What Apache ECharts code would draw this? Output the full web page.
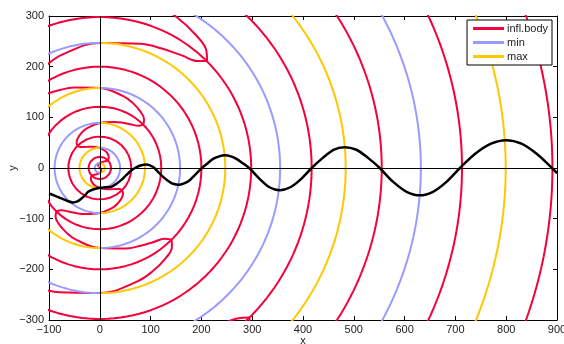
<!DOCTYPE html>
<html>
<head>
<meta charset="utf-8">
<script src="https://cdn.jsdelivr.net/npm/echarts@6/dist/echarts.min.js"></script>
<style>
  html, body { margin: 0; padding: 0; background: #fff; }
  #chart { width: 564px; height: 344px; }
</style>
</head>
<body>
<div id="chart"></div>
<script>
// ring radii (data units); min/max swap colour across x = 0
const maxRadiiRight = [10, 89, 247, 484, 799];
const minRadiiRight = [40, 158, 355, 632];
const maxRadiiLeft = [40, 158, 355];
const minRadiiLeft = [10, 89, 247];
const inflRadii = [2.5, 22, 62, 121, 200, 298, 417, 555, 713, 891];

// spiral branches of infl.body: radius at each fraction of a 90 degree sweep
const arcFrac = [0, 0.03, 0.1, 0.2, 0.3, 0.5, 0.7, 0.8, 0.9, 0.97, 1];
// upper ones start at 45 deg and sweep to 135 deg
const arcA = [298.6, 285.4, 274.8, 265.2, 258.0, 246.7, 235.8, 228.9, 220.2, 210.9, 199.9];
const arcB = [298.6, 312.0, 323.3, 333.9, 342.1, 355.3, 368.8, 377.4, 388.8, 401.4, 417.0];
const arcC = [120.9, 129.5, 136.8, 143.7, 149.2, 157.9, 166.9, 172.8, 180.5, 189.1, 199.9];
const arcD = [120.9, 112.6, 106.0, 100.1, 95.6, 88.8, 82.3, 78.3, 73.2, 67.9, 61.7];
const arcE = [22.2, 26.0, 29.3, 32.5, 35.2, 39.5, 44.0, 47.1, 51.2, 55.8, 61.7];
const arcF = [22.2, 18.7, 16.1, 13.8, 12.2, 9.9, 7.8, 6.6, 5.2, 3.8, 2.5];
// lower ones start at -45 deg and sweep to -135 deg
const arcG = [417.0, 401.4, 388.8, 377.4, 368.8, 355.3, 342.1, 333.9, 323.3, 312.0, 298.6];
const arcH = [417.0, 432.8, 446.1, 458.5, 468.2, 483.6, 499.3, 509.4, 522.6, 537.2, 555.2];
const arcI = [199.9, 210.9, 220.2, 228.9, 235.8, 246.7, 258.0, 265.2, 274.8, 285.4, 298.6];
const arcJ = [199.9, 189.1, 180.5, 172.8, 166.9, 157.9, 149.2, 143.7, 136.8, 129.5, 120.9];
const arcK = [61.7, 67.9, 73.2, 78.3, 82.3, 88.8, 95.6, 100.1, 106.0, 112.6, 120.9];
const arcL = [61.7, 55.8, 51.2, 47.1, 44.0, 39.5, 35.2, 32.5, 29.3, 26.0, 22.2];
const arcM = [2.5, 3.8, 5.2, 6.6, 7.8, 9.9, 12.2, 13.8, 16.1, 18.7, 22.2];

// black profile curve
const profileX = [-100, -88, -76, -64, -53, -44, -36, -29, -23, -12, 0, 12, 23, 33, 42, 52, 62, 71, 80, 92, 105, 115, 124, 134, 144, 157, 167, 177, 188, 200, 212, 223, 235, 246, 258, 269, 282, 295, 315, 334, 354, 375, 396, 417, 439, 460, 482, 505, 528, 551, 577, 604, 630, 656, 683, 709, 739, 770, 800, 830, 860, 890, 900];
const profileY = [-50, -55, -60, -65, -68, -66, -60, -54, -47, -42, -39, -38, -37, -31, -24, -14, -5, 1, 5, 7, 2, -8, -17, -25, -31, -33, -30, -24, -13, -1, 9, 18, 23, 25, 23, 18, 9, -1, -22, -38, -44, -38, -22, 0, 20, 36, 41, 36, 20, 0, -27, -47, -54, -47, -27, 0, 28, 48, 55, 48, 28, 0, -10];

const RED = '#f5003a';
const BLUE = '#9b9bff';
const YELLOW = '#ffc800';
const DEG = Math.PI / 180;

function arc(r, a0, a1) {
  const pts = [];
  const n = Math.max(30, Math.round(r / 2));
  for (let i = 0; i <= n; i++) {
    const a = (a0 + (a1 - a0) * i / n) * DEG;
    pts.push([r * Math.cos(a), r * Math.sin(a)]);
  }
  return pts;
}

function spiral(radii, startDeg, sweepDeg) {
  return radii.map((r, i) => {
    const a = (startDeg + sweepDeg * arcFrac[i]) * DEG;
    return [r * Math.cos(a), r * Math.sin(a)];
  });
}

function lineSeries(name, color, data, width) {
  return {
    name: name,
    type: 'line',
    data: data,
    showSymbol: false,
    symbol: 'none',
    silent: true,
    lineStyle: { color: color, width: width || 2 },
    itemStyle: { color: color },
    z: 3
  };
}

const series = [];
inflRadii.forEach(r => series.push(lineSeries('infl.body', RED, arc(r, 0, 360))));
[arcA, arcB, arcC, arcD, arcE, arcF].forEach(a => {
  const s = lineSeries('infl.body', RED, spiral(a, 45, 90));
  s.smooth = 0.4;
  series.push(s);
});
[arcG, arcH, arcI, arcJ, arcK, arcL, arcM].forEach(a => {
  const s = lineSeries('infl.body', RED, spiral(a, -45, -90));
  s.smooth = 0.4;
  series.push(s);
});
minRadiiRight.forEach(r => series.push(lineSeries('min', BLUE, arc(r, -90, 90))));
minRadiiLeft.forEach(r => series.push(lineSeries('min', BLUE, arc(r, 90, 270))));
maxRadiiRight.forEach(r => series.push(lineSeries('max', YELLOW, arc(r, -90, 90))));
maxRadiiLeft.forEach(r => series.push(lineSeries('max', YELLOW, arc(r, 90, 270))));

const profile = lineSeries('profile', '#000', profileX.map((x, i) => [x, profileY[i]]), 2.5);
profile.smooth = 0.3;
profile.z = 5;
profile.markLine = {
  silent: true,
  symbol: 'none',
  label: { show: false },
  lineStyle: { color: '#000', width: 1, type: 'solid' },
  data: [{ xAxis: 0 }, { yAxis: 0 }]
};
series.push(profile);

const minus = v => String(v).replace('-', '\u2212');
const tickFont = { fontFamily: 'Liberation Sans, Arial, sans-serif', fontSize: 11, color: '#222' };

const chart = echarts.init(document.getElementById('chart'));
chart.setOption({
  animation: false,
  backgroundColor: '#fff',
  grid: { left: 49, right: 7, top: 16, bottom: 24, containLabel: false, outerBoundsMode: 'none' },
  legend: {
    data: ['infl.body', 'min', 'max'],
    orient: 'vertical',
    right: 12,
    top: 20,
    icon: 'rect',
    itemWidth: 31,
    itemHeight: 3,
    itemGap: 3,
    padding: [3, 4, 3, 6],
    backgroundColor: '#fff',
    borderColor: '#000',
    borderWidth: 1,
    borderRadius: 0,
    textStyle: { fontFamily: 'Liberation Sans, Arial, sans-serif', fontSize: 11, color: '#222', padding: [0, 0, 0, -2] }
  },
  xAxis: [{
    type: 'value', min: -100, max: 900, interval: 100,
    name: 'x', nameLocation: 'middle', nameGap: 15, nameMoveOverlap: false,
    nameTextStyle: tickFont,
    axisLine: { onZero: false, lineStyle: { color: '#000', width: 1 } },
    axisTick: { inside: true, length: 4, lineStyle: { color: '#000' } },
    axisLabel: Object.assign({ margin: 4, formatter: minus }, tickFont),
    splitLine: { show: false }
  }, {
    type: 'value', min: -100, max: 900, interval: 100, position: 'top',
    axisLine: { onZero: false, lineStyle: { color: '#000', width: 1 } },
    axisTick: { inside: true, length: 4, lineStyle: { color: '#000' } },
    axisLabel: { show: false },
    splitLine: { show: false }
  }],
  yAxis: [{
    type: 'value', min: -300, max: 300, interval: 100,
    name: 'y', nameLocation: 'middle', nameGap: 31, nameMoveOverlap: false,
    nameTextStyle: tickFont,
    axisLine: { onZero: false, lineStyle: { color: '#000', width: 1 } },
    axisTick: { inside: true, length: 4, lineStyle: { color: '#000' } },
    axisLabel: Object.assign({ margin: 5, formatter: minus }, tickFont),
    splitLine: { show: false }
  }, {
    type: 'value', min: -300, max: 300, interval: 100, position: 'right',
    axisLine: { onZero: false, lineStyle: { color: '#000', width: 1 } },
    axisTick: { inside: true, length: 4, lineStyle: { color: '#000' } },
    axisLabel: { show: false },
    splitLine: { show: false }
  }],
  series: series
});
</script>
</body>
</html>
